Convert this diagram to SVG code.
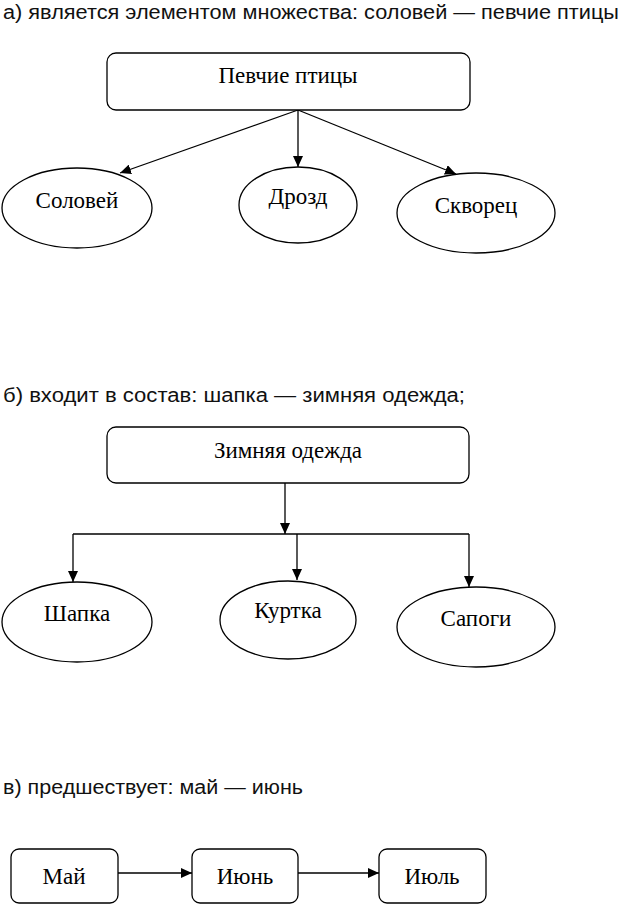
<svg xmlns="http://www.w3.org/2000/svg" width="622" height="904" viewBox="0 0 622 904">
<style>
.head{font-family:"Liberation Sans","DejaVu Sans",sans-serif;font-size:20px;fill:#111}
.box{fill:#fff;stroke:#000;stroke-width:1.3}
.lbl{font-family:"Liberation Serif","Times New Roman",serif;font-size:23px;fill:#000;text-anchor:middle}
.con{fill:none;stroke:#000;stroke-width:1.3}
</style>
<defs>
<marker id="ah" markerUnits="userSpaceOnUse" markerWidth="12" markerHeight="10" refX="11" refY="5" orient="auto">
<path d="M0,0 L11,5 L0,10 Z" fill="#000"/>
</marker>
</defs>
<rect width="622" height="904" fill="#fff"/>

<text class="head" x="3" y="19" textLength="616" lengthAdjust="spacingAndGlyphs">а) является элементом множества: соловей — певчие птицы</text>
<text class="head" x="3" y="402" textLength="462" lengthAdjust="spacingAndGlyphs">б) входит в состав: шапка — зимняя одежда;</text>
<text class="head" x="3" y="794" textLength="300" lengthAdjust="spacingAndGlyphs">в) предшествует: май — июнь</text>

<g id="connectors">
<path class="con" d="M298,110 L120,173" marker-end="url(#ah)"/>
<path class="con" d="M298,110 L298,167" marker-end="url(#ah)"/>
<path class="con" d="M298,110 L456,174" marker-end="url(#ah)"/>
<path class="con" d="M285,483 L285,534" marker-end="url(#ah)"/>
<path class="con" d="M73,534 L469,534"/>
<path class="con" d="M73,534 L73,582" marker-end="url(#ah)"/>
<path class="con" d="M297,534 L297,580" marker-end="url(#ah)"/>
<path class="con" d="M469,534 L469,587" marker-end="url(#ah)"/>
<path class="con" d="M118,873 L192,873" marker-end="url(#ah)"/>
<path class="con" d="M298,873 L379,873" marker-end="url(#ah)"/>
</g>

<g id="pevchie"><rect class="box" x="107" y="53" width="363" height="57" rx="9"/><text class="lbl" x="288" y="83">Певчие птицы</text></g>
<g id="solovey"><ellipse class="box" cx="77" cy="208" rx="75" ry="40"/><text class="lbl" x="77" y="208">Соловей</text></g>
<g id="drozd"><ellipse class="box" cx="298" cy="205" rx="59" ry="38"/><text class="lbl" x="298" y="204">Дрозд</text></g>
<g id="skvorets"><ellipse class="box" cx="476" cy="213" rx="79" ry="40"/><text class="lbl" x="476" y="213">Скворец</text></g>

<g id="zimnyaya"><rect class="box" x="107" y="427" width="362" height="56" rx="9"/><text class="lbl" x="288" y="458">Зимняя одежда</text></g>
<g id="shapka"><ellipse class="box" cx="77" cy="622" rx="75" ry="40"/><text class="lbl" x="77" y="621">Шапка</text></g>
<g id="kurtka"><ellipse class="box" cx="288" cy="620" rx="68" ry="39"/><text class="lbl" x="288" y="618">Куртка</text></g>
<g id="sapogi"><ellipse class="box" cx="476" cy="627" rx="79" ry="40"/><text class="lbl" x="476" y="626">Сапоги</text></g>

<g id="may"><rect class="box" x="11" y="849" width="107" height="54" rx="8"/><text class="lbl" x="64" y="884">Май</text></g>
<g id="iyun"><rect class="box" x="192" y="849" width="106" height="54" rx="8"/><text class="lbl" x="245" y="884">Июнь</text></g>
<g id="iyul"><rect class="box" x="379" y="849" width="107" height="54" rx="8"/><text class="lbl" x="432" y="884">Июль</text></g>
</svg>
